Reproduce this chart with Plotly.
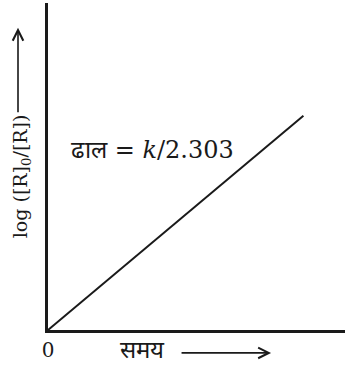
import plotly.graph_objects as go

# straight line through the origin: log([R]0/[R]) against time
time = [0, 0.86]
log_ratio = [0, 0.655]

x_tick_vals = [0]
x_tick_text = ["0"]

serif = "DejaVu Serif, Liberation Serif, serif"
ink = "#1a1a1a"

fig = go.Figure()
fig.add_trace(go.Scatter(x=time, y=log_ratio, mode="lines",
                         line=dict(color=ink, width=2),
                         hoverinfo="skip", showlegend=False))

fig.update_layout(
    width=345, height=367,
    margin=dict(l=48, r=0, t=3, b=37),
    paper_bgcolor="white", plot_bgcolor="white",
    font=dict(family=serif, color=ink, size=19),
    xaxis=dict(range=[0, 1], showgrid=False, zeroline=False,
               showline=True, linecolor=ink, linewidth=2.5,
               tickvals=x_tick_vals, ticktext=x_tick_text, ticks="",
               tickfont=dict(size=20)),
    yaxis=dict(range=[0, 1], showgrid=False, zeroline=False,
               showline=True, linecolor=ink, linewidth=2.5,
               showticklabels=False, ticks=""),
)

# y title with its arrow
fig.add_annotation(xref="paper", yref="paper", x=-0.14, y=0.47,
                   text="log ([R]<sub>0</sub>/[R])", textangle=-90,
                   showarrow=False, font=dict(size=19))
fig.add_annotation(xref="paper", yref="paper", x=-0.101, y=0.924,
                   text="", showarrow=True, ax=0, ay=86,
                   arrowhead=5, arrowsize=1.3, arrowwidth=1.6, arrowcolor=ink,
                   font=dict(size=1))

# x title with its arrow
fig.add_annotation(xref="paper", yref="paper", x=0.236, y=-0.11,
                   xanchor="left",
                   text="समय", showarrow=False, font=dict(size=24))
fig.add_annotation(xref="paper", yref="paper", x=0.751, y=-0.07,
                   text="", showarrow=True, ax=-91, ay=0,
                   arrowhead=5, arrowsize=1.3, arrowwidth=1.6, arrowcolor=ink,
                   font=dict(size=1))

# slope label
fig.add_annotation(xref="paper", yref="paper", x=0.07, y=0.55,
                   xanchor="left",
                   text="ढाल = <i>k</i>/2.303", showarrow=False,
                   font=dict(size=24))

fig.write_html("out.html", config={"displayModeBar": False},
               post_script="document.body.style.margin='0';")
